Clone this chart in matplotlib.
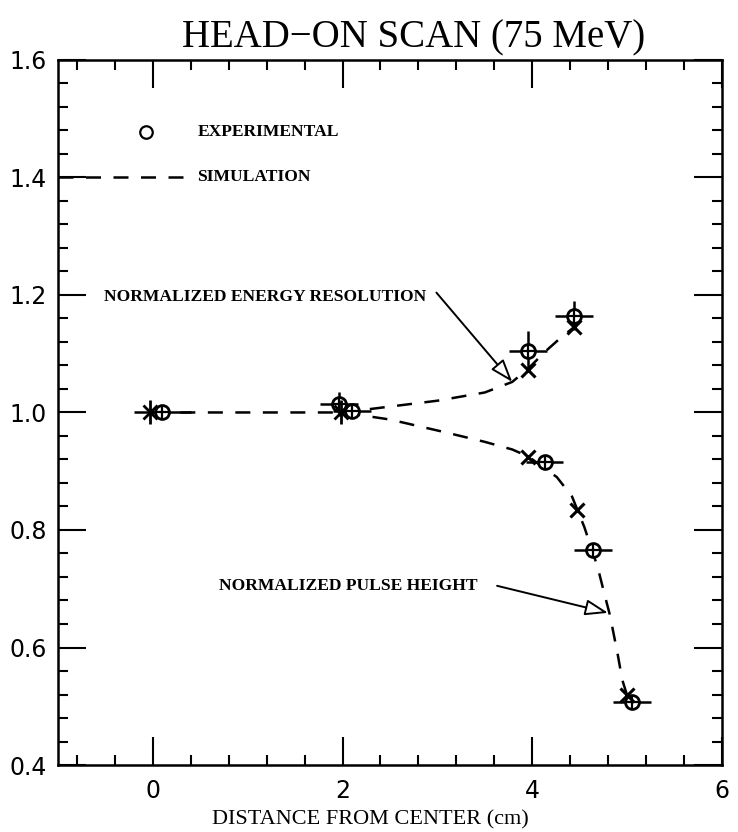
import matplotlib.pyplot as plt
from matplotlib.ticker import MultipleLocator, FormatStrFormatter

# measured points (circles) - normalized energy resolution
res_x = [0.10, 1.96, 3.96, 4.44]
res_y = [1.000, 1.014, 1.104, 1.165]
res_xerr = [0.30, 0.20, 0.20, 0.20]
res_yerr = [0.0, 0.020, 0.035, 0.025]

# measured points (circles) - normalized pulse height
ph_x = [2.10, 4.13, 4.64, 5.05]
ph_y = [1.003, 0.916, 0.766, 0.507]
ph_xerr = [0.20, 0.20, 0.20, 0.20]

# simulated points
sim_center_x = [-0.03, 1.98]
sim_center_y = [1.000, 1.000]
sim_res_x = [3.96, 4.44]
sim_res_y = [1.073, 1.145]
sim_ph_x = [3.96, 4.47, 5.00]
sim_ph_y = [0.925, 0.834, 0.519]

# simulation curves
curve_res_x = [2.00, 2.50, 3.00, 3.50, 3.79, 3.96, 4.14, 4.30, 4.44]
curve_res_y = [1.000, 1.010, 1.020, 1.034, 1.052, 1.075, 1.104, 1.127, 1.145]
curve_ph_x = [0.00, 2.00, 2.50, 3.09, 3.50, 3.79, 3.96, 4.26, 4.42, 4.55, 4.69, 4.77, 4.82, 4.90, 4.95, 5.00]
curve_ph_y = [1.000, 1.000, 0.988, 0.966, 0.950, 0.937, 0.925, 0.890, 0.857, 0.805, 0.737, 0.686, 0.655, 0.590, 0.545, 0.519]

dash = dict(color='black', lw=1.8, ls=(0, (6, 5)))

fig = plt.figure(figsize=(7.38, 8.32), dpi=100)
ax = fig.add_axes([0.0786, 0.0805, 0.8995, 0.8475])

ax.plot(curve_res_x, curve_res_y, **dash)
ax.plot(curve_ph_x, curve_ph_y, **dash)

circ = dict(fmt='o', ms=10, mfc='white', mec='black', mew=2.0, ecolor='black',
            elinewidth=1.8, capsize=0, zorder=4)
ax.errorbar(res_x, res_y, xerr=res_xerr, yerr=res_yerr, **circ)
ax.errorbar(ph_x, ph_y, xerr=ph_xerr, **circ)
ax.plot(res_x + ph_x, res_y + ph_y, '+', ms=10, mew=1.6, color='black', zorder=5)

# asterisks at the centre points: an x with a vertical stroke
ax.plot(sim_center_x, sim_center_y, 'x', ms=10, mew=2.0, color='black', zorder=5)
ax.plot(sim_center_x, sim_center_y, '|', ms=17, mew=2.0, color='black', zorder=5)
ax.plot(sim_res_x + sim_ph_x, sim_res_y + sim_ph_y, 'x', ms=10, mew=2.2,
        color='black', zorder=5)

# legend drawn by hand
lab = dict(fontsize=12.6, fontweight='bold', family='Liberation Serif', va='center')
ax.plot([-0.07], [1.478], 'o', ms=9, mfc='white', mec='black', mew=1.6)
ax.text(0.47, 1.478, 'EXPERIMENTAL', **lab)
ax.plot([-1.0, 0.33], [1.40, 1.40], **dash)
ax.text(0.47, 1.40, 'SIMULATION', **lab)

arrow = dict(arrowstyle='-|>,head_length=1.0,head_width=0.35', fc='white',
             ec='black', lw=1.4, shrinkA=0, shrinkB=0, mutation_scale=14)
ax.text(-0.52, 1.197, 'NORMALIZED ENERGY RESOLUTION', **lab)
ax.annotate('', xy=(3.79, 1.052), xytext=(2.99, 1.204), arrowprops=arrow)
ax.text(0.70, 0.705, 'NORMALIZED PULSE HEIGHT', **lab)
ax.annotate('', xy=(4.80, 0.659), xytext=(3.63, 0.705), arrowprops=arrow)

ax.set_xlim(-1, 6)
ax.set_ylim(0.4, 1.6)
ax.xaxis.set_major_locator(MultipleLocator(2))
ax.xaxis.set_minor_locator(MultipleLocator(0.4))
ax.yaxis.set_major_locator(MultipleLocator(0.2))
ax.yaxis.set_minor_locator(MultipleLocator(0.04))
ax.yaxis.set_major_formatter(FormatStrFormatter('%.1f'))
ax.tick_params(which='both', direction='in', top=True, right=True, width=1.5,
               labelsize=17, pad=10)
ax.tick_params(axis='y', pad=8)
ax.tick_params(which='major', length=20)
ax.tick_params(which='minor', length=7)
for lbl in ax.get_xticklabels() + ax.get_yticklabels():
    lbl.set_family('DejaVu Sans')
for s in ax.spines.values():
    s.set_linewidth(1.8)

ax.set_xlabel('DISTANCE FROM CENTER (cm)', family='Liberation Serif', fontsize=16,
              labelpad=5, x=0.47)
ax.set_title('HEAD\u2212ON SCAN (75 MeV)', family='Liberation Serif', fontsize=28,
             pad=9, x=0.535)

fig.savefig('out.png', dpi=100)
